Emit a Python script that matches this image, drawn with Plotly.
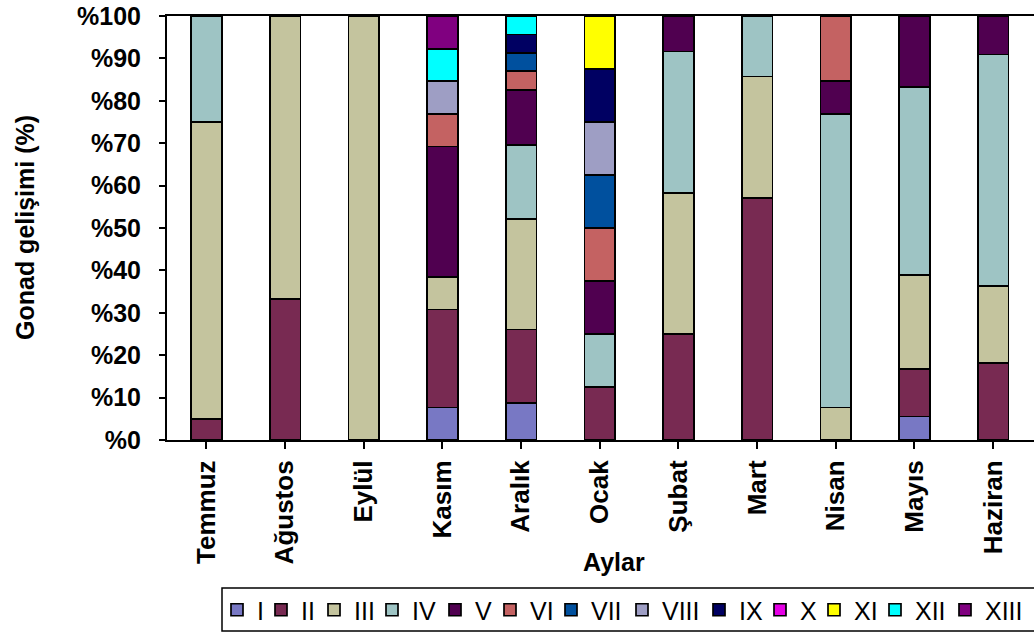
import plotly.graph_objects as go

months = ["Temmuz", "Ağustos", "Eylül", "Kasım", "Aralık", "Ocak",
          "Şubat", "Mart", "Nisan", "Mayıs", "Haziran"]

stage_I    = [None, None, None, 7.69, 8.70, None, None, None, None, 5.56, None]
stage_II   = [5.0, 33.33, None, 23.08, 17.39, 12.5, 25.0, 57.14, None, 11.11, 18.18]
stage_III  = [70.0, 66.67, 100.0, 7.69, 26.09, None, 33.33, 28.57, 7.69, 22.22, 18.18]
stage_IV   = [25.0, None, None, None, 17.39, 12.5, 33.33, 14.29, 69.23, 44.44, 54.55]
stage_V    = [None, None, None, 30.77, 13.04, 12.5, 8.33, None, 7.69, 16.67, 9.09]
stage_VI   = [None, None, None, 7.69, 4.35, 12.5, None, None, 15.38, None, None]
stage_VII  = [None, None, None, None, 4.35, 12.5, None, None, None, None, None]
stage_VIII = [None, None, None, 7.69, None, 12.5, None, None, None, None, None]
stage_IX   = [None, None, None, None, 4.35, 12.5, None, None, None, None, None]
stage_X    = [None, None, None, None, None, None, None, None, None, None, None]
stage_XI   = [None, None, None, None, None, 12.5, None, None, None, None, None]
stage_XII  = [None, None, None, 7.69, 4.35, None, None, None, None, None, None]
stage_XIII = [None, None, None, 7.69, None, None, None, None, None, None, None]

series_names = ["I", "II", "III", "IV", "V", "VI", "VII", "VIII", "IX", "X", "XI", "XII", "XIII"]
series_values = [stage_I, stage_II, stage_III, stage_IV, stage_V, stage_VI, stage_VII,
                 stage_VIII, stage_IX, stage_X, stage_XI, stage_XII, stage_XIII]
series_colors = ["#7878C4", "#782A52", "#C4C49E", "#9EC4C4", "#500050", "#C46262",
                 "#00509E", "#9E9EC4", "#000062", "#E600E6", "#FFFF00", "#00FFFF", "#800080"]

yticks = list(range(0, 101, 10))
ytick_text = ["%" + str(v) for v in yticks]

# layout helpers (page pixels; body margin is removed by the post script)
W, H = 1034, 633
PLOT_L, PLOT_R, PLOT_T, PLOT_B = 167, 1034, 16, 440
ML = PLOT_L
MT = PLOT_T
MR = W - PLOT_R
MB = H - PLOT_B
PW = W - ML - MR
PH = H - MT - MB

# legend symbol centres on the page, layout only
legend_symbol_cx = [237, 281, 334, 392, 455, 510, 571, 642, 719, 780, 834, 895, 965]
LEGEND_SYMBOL_OFFSET = 20

FONT = "Liberation Sans, Arial, sans-serif"


def px_x(px):
    return (px - ML) / PW


def px_y(py):
    return (PLOT_B - py) / PH


fig = go.Figure()
legend_layouts = {}
for i, (name, vals, col) in enumerate(zip(series_names, series_values, series_colors)):
    key = "legend" if i == 0 else f"legend{i + 1}"
    fig.add_trace(go.Bar(
        x=months, y=vals, name=name, legend=key,
        marker=dict(color=col, line=dict(color="#000000", width=1.7)),
    ))
    legend_layouts[key] = dict(
        orientation="h", x=px_x(legend_symbol_cx[i] - LEGEND_SYMBOL_OFFSET), xanchor="left",
        y=px_y(610), yanchor="middle",
        bgcolor="rgba(0,0,0,0)", borderwidth=0,
        font=dict(family=FONT, size=25, color="black"),
        itemwidth=30,
    )

fig.update_layout(
    width=W, height=H,
    barmode="stack", bargap=0.61,
    paper_bgcolor="white", plot_bgcolor="white",
    margin=dict(l=ML, r=MR, t=MT, b=MB, autoexpand=False),
    font=dict(family=FONT, size=25, color="black"),
    showlegend=True,
    xaxis=dict(
        type="category", showline=True, linecolor="black", linewidth=2, mirror=True,
        range=[-0.5, 10.52],
        ticks="outside", ticklen=7, tickcolor="black", tickwidth=2,
        tickangle=-90, tickfont=dict(family=FONT, size=26, color="black", weight="bold"),
        showgrid=False, ticklabelstandoff=1, automargin=False, ticklabeloverflow="allow",
    ),
    yaxis=dict(
        range=[0, 100], tickvals=yticks, ticktext=ytick_text,
        showline=True, linecolor="black", linewidth=2,
        ticks="outside", ticklen=6, tickcolor="black", tickwidth=2,
        tickfont=dict(family=FONT, size=25, color="black", weight="bold"),
        showgrid=False, zeroline=False, ticklabelstandoff=13, automargin=False,
        ticklabeloverflow="allow",
    ),
    shapes=[
        dict(type="rect", xref="paper", yref="paper",
             x0=px_x(222), x1=px_x(1050),
             y0=px_y(631), y1=px_y(588),
             line=dict(color="black", width=1.5), fillcolor="rgba(0,0,0,0)", layer="below"),
    ],
    annotations=[
        dict(text="<b>Aylar</b>", xref="paper", yref="paper", x=px_x(614), y=px_y(562),
             xanchor="center", yanchor="middle", showarrow=False,
             font=dict(family=FONT, size=25, color="black")),
        dict(text="<b>Gonad gelişimi (%)</b>", xref="paper", yref="paper", x=px_x(25),
             y=px_y(228),
             xanchor="center", yanchor="middle", showarrow=False, textangle=-90,
             font=dict(family=FONT, size=25, color="black")),
    ],
    **legend_layouts,
)

fig.write_html("out.html", config={"displayModeBar": False},
               post_script="document.body.style.margin='0';")
